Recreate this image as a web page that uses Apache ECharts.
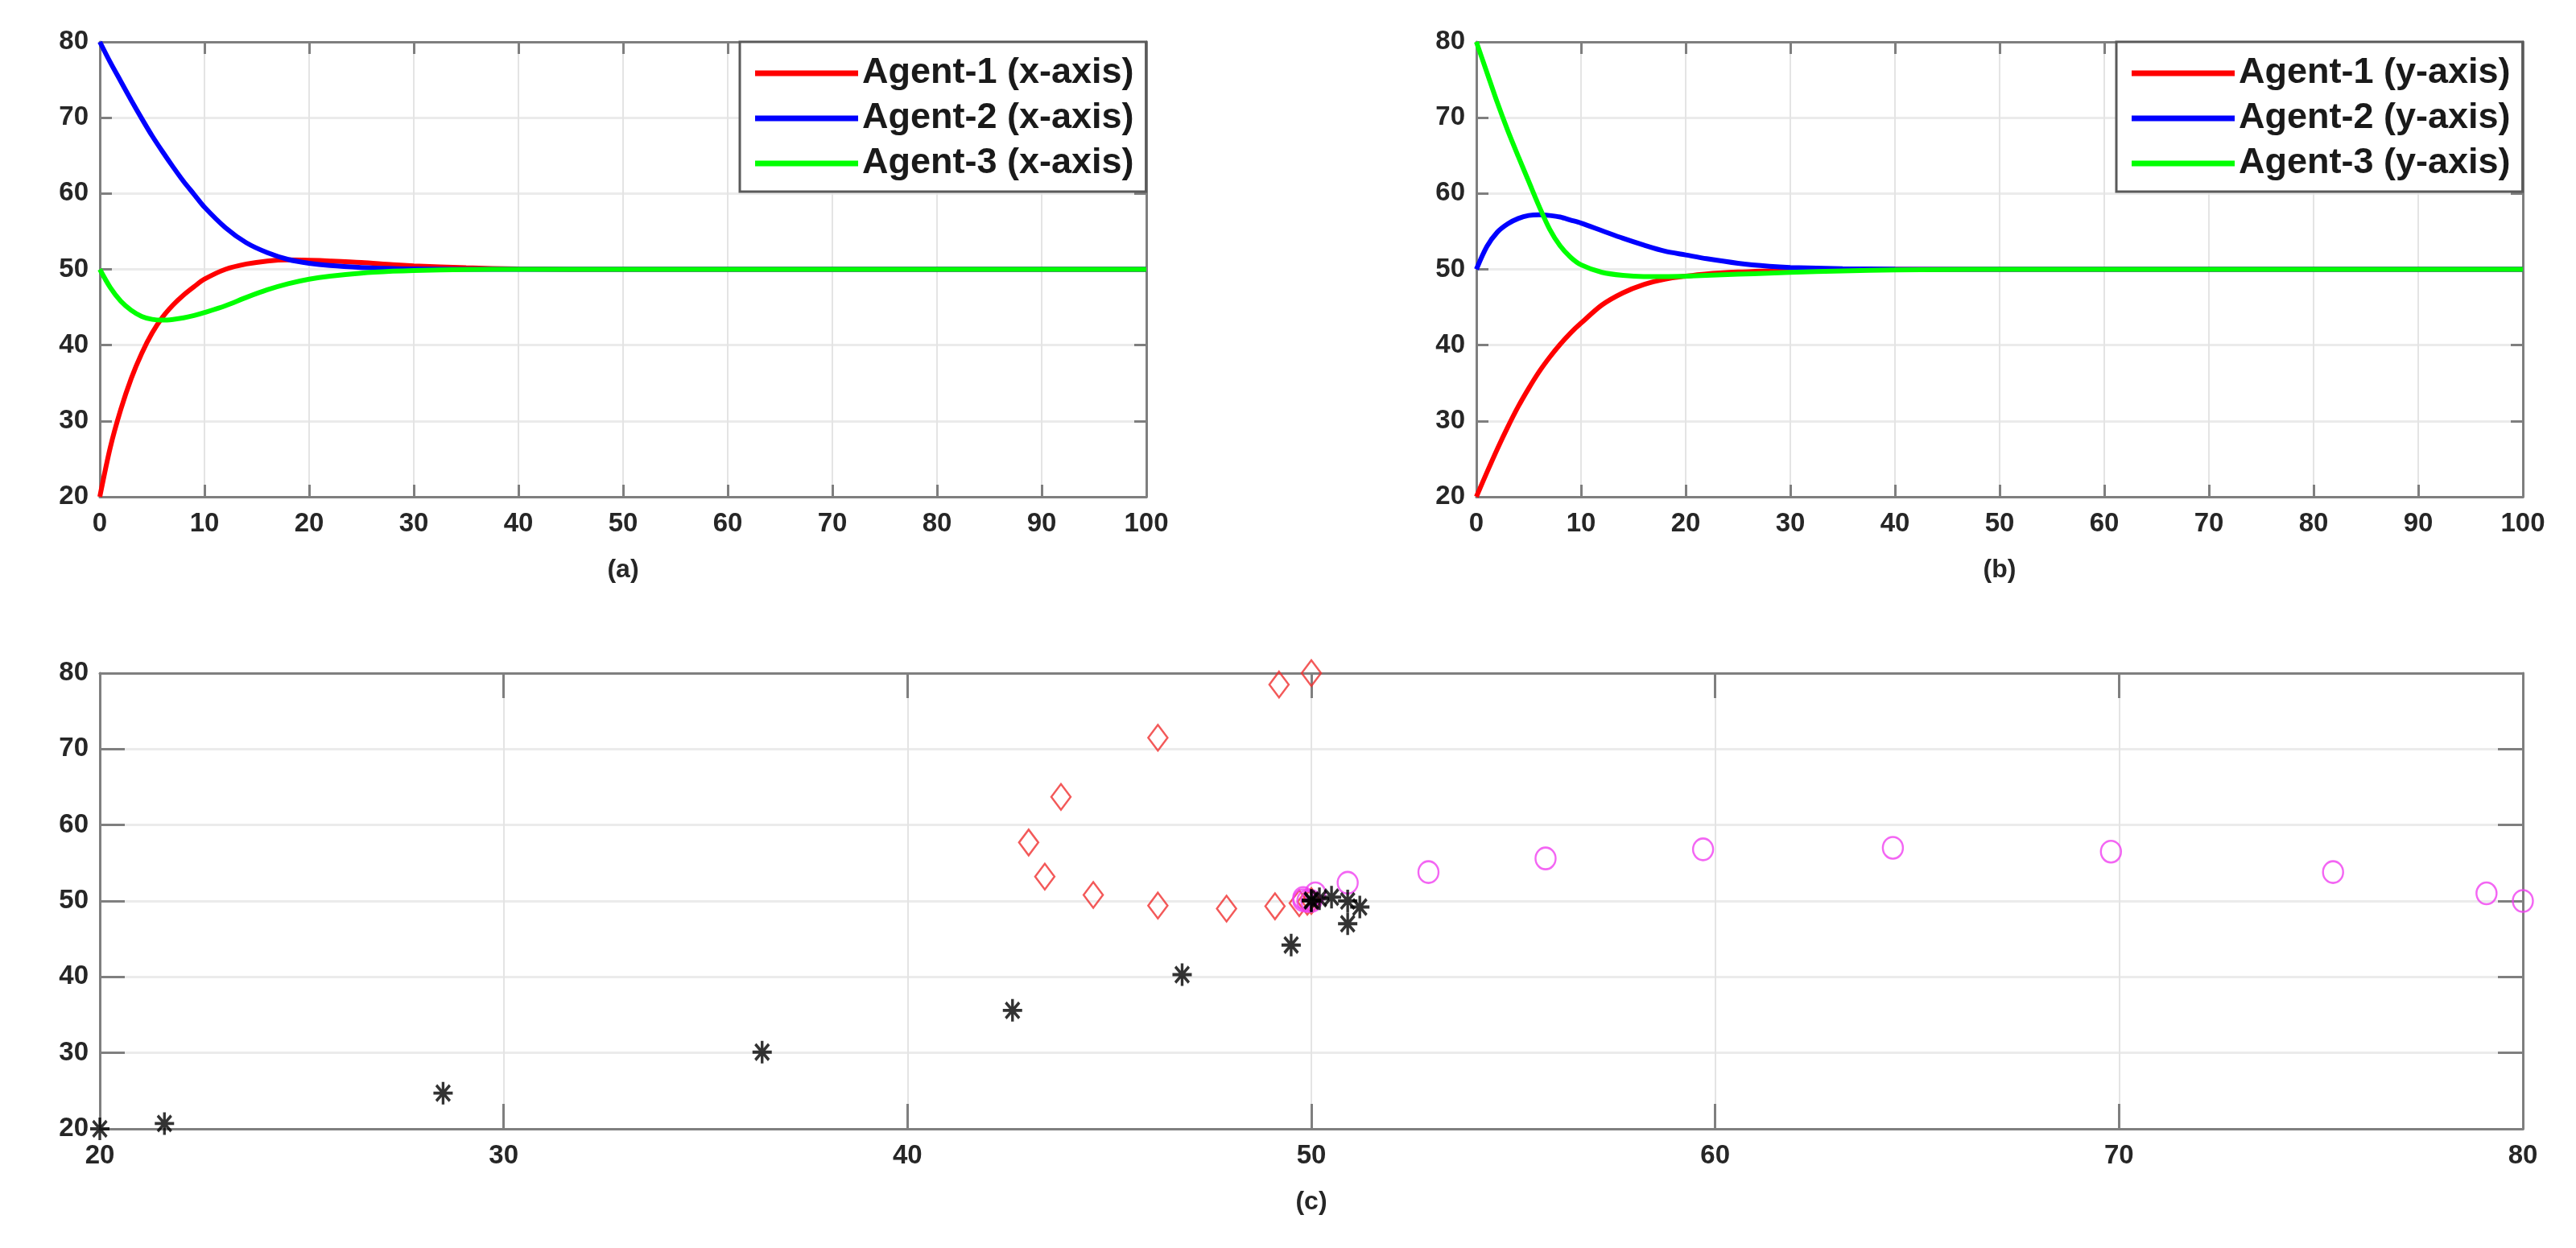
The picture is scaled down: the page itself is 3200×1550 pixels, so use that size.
<!DOCTYPE html>
<html>
<head>
<meta charset="utf-8">
<script src="https://cdn.jsdelivr.net/npm/echarts@6/dist/echarts.min.js"></script>
<style>
html, body { margin: 0; padding: 0; background: #fff; }
#main { width: 3200px; height: 1550px; }
</style>
</head>
<body>
<div id="main"></div>
<script>
// time steps (a) and (b)
const steps = [0, 1, 2, 3, 4, 5, 6, 7, 8, 9, 10, 12, 14, 16, 18, 20, 22, 25, 28, 30, 35, 40, 45, 50, 60, 70, 80, 90, 100];

// (a) x-axis position of each agent
const xAgent1 = [20, 26.5, 31.5, 35.6, 38.9, 41.6, 43.7, 45.3, 46.6, 47.7, 48.7, 50.0, 50.7, 51.1, 51.25, 51.2, 51.1, 50.9, 50.6, 50.45, 50.2, 50.05, 50, 50, 50, 50, 50, 50, 50];
const xAgent2 = [80, 77.3, 74.8, 72.3, 69.9, 67.6, 65.5, 63.5, 61.6, 59.9, 58.2, 55.5, 53.5, 52.2, 51.3, 50.8, 50.5, 50.25, 50.1, 50.05, 50, 50, 50, 50, 50, 50, 50, 50, 50];
const xAgent3 = [50, 47.6, 45.8, 44.6, 43.8, 43.4, 43.3, 43.4, 43.6, 43.9, 44.3, 45.2, 46.3, 47.3, 48.1, 48.7, 49.1, 49.5, 49.75, 49.85, 49.97, 50, 50, 50, 50, 50, 50, 50, 50];

// (b) y-axis position of each agent
const yAgent1 = [20, 23.2, 26.3, 29.2, 31.9, 34.3, 36.5, 38.4, 40.1, 41.6, 42.9, 45.3, 46.9, 48.0, 48.7, 49.1, 49.4, 49.65, 49.8, 49.88, 49.97, 50, 50, 50, 50, 50, 50, 50, 50];
const yAgent2 = [50, 53.0, 54.9, 56.0, 56.7, 57.1, 57.2, 57.1, 56.9, 56.5, 56.1, 55.1, 54.1, 53.2, 52.4, 51.9, 51.4, 50.8, 50.4, 50.25, 50.08, 50.02, 50, 50, 50, 50, 50, 50, 50];
const yAgent3 = [80, 76.0, 72.0, 68.3, 64.9, 61.6, 58.3, 55.3, 53.1, 51.6, 50.6, 49.6, 49.2, 49.05, 49.05, 49.1, 49.2, 49.35, 49.5, 49.6, 49.8, 49.92, 49.97, 50, 50, 50, 50, 50, 50];

// (c) planar trajectories
const path1X = [20, 21.6, 28.5, 36.4, 42.6, 46.8, 49.5, 50.9, 51.2, 50.9, 50.5, 50.2, 50.0, 50];
const path1Y = [20, 20.7, 24.7, 30.1, 35.6, 40.3, 44.2, 47.0, 49.2, 50.0, 50.5, 50.3, 50.1, 50];
const path2X = [80, 79.1, 75.3, 69.8, 64.4, 59.7, 55.8, 52.9, 50.9, 50.1, 49.8, 49.8, 49.9, 50];
const path2Y = [50, 51.0, 53.8, 56.5, 57.0, 56.8, 55.6, 53.8, 52.4, 51.0, 50.4, 50.1, 50.0, 50];
const path3X = [50, 49.2, 46.2, 43.8, 43.0, 43.4, 44.6, 46.2, 47.9, 49.1, 49.7, 49.9, 50];
const path3Y = [80, 78.5, 71.5, 63.7, 57.7, 53.2, 50.8, 49.4, 49.0, 49.3, 49.7, 49.9, 50];

const namesA = ['Agent-1 (x-axis)', 'Agent-2 (x-axis)', 'Agent-3 (x-axis)'];
const namesB = ['Agent-1 (y-axis)', 'Agent-2 (y-axis)', 'Agent-3 (y-axis)'];
const lineColors = ['#ff0000', '#0000ff', '#00ff00'];

const chart = echarts.init(document.getElementById('main'));

const axisGray = '#7f7f7f';
const fontFam = 'Liberation Sans';

function pairs(xs, ys) {
    return xs.map(function (x, i) { return [x, ys[i]]; });
}

function makeX(gridIndex, pos, min, max, tickLen) {
    let main = pos === 'bottom';
    return {
        type: 'value', gridIndex: gridIndex, position: pos,
        min: min, max: max, interval: 10,
        axisLine: { show: true, onZero: false, lineStyle: { color: axisGray, width: 3 } },
        axisTick: { show: true, inside: true, length: tickLen, lineStyle: { color: axisGray, width: 3 } },
        axisLabel: {
            show: main, margin: 17,
            fontFamily: fontFam, fontSize: 33, fontWeight: 'bold', color: '#262626'
        },
        splitLine: { show: main, lineStyle: { color: '#e4e4e4', width: 2 } }
    };
}

function makeY(gridIndex, pos, tickLen) {
    let main = pos === 'left';
    return {
        type: 'value', gridIndex: gridIndex, position: pos,
        min: 20, max: 80, interval: 10,
        axisLine: { show: true, onZero: false, lineStyle: { color: axisGray, width: 3 } },
        axisTick: { show: true, inside: true, length: tickLen, lineStyle: { color: axisGray, width: 3 } },
        axisLabel: {
            show: main, margin: 14,
            fontFamily: fontFam, fontSize: 33, fontWeight: 'bold', color: '#262626'
        },
        splitLine: { show: main, lineStyle: { color: '#ebebeb', width: 3 } }
    };
}

function lineSeries(name, values, color, axisIdx) {
    return {
        name: name, type: 'line',
        xAxisIndex: axisIdx, yAxisIndex: axisIdx,
        data: pairs(steps, values),
        symbol: 'none', showSymbol: false, smooth: 0.3,
        lineStyle: { color: color, width: 6 },
        itemStyle: { color: color }
    };
}

function legendFor(names, left) {
    return {
        data: names, orient: 'vertical', left: left, top: 52,
        selectedMode: false, icon: 'rect',
        backgroundColor: '#fff', borderColor: '#5a5a5a', borderWidth: 3, borderRadius: 0,
        padding: [14, 15, 10, 19],
        itemWidth: 128, itemHeight: 7, itemGap: 6,
        textStyle: { fontFamily: fontFam, fontSize: 45, fontWeight: 'bold', color: '#1a1a1a', lineHeight: 50 }
    };
}

// MATLAB style '*' marker
const starPath = 'path://M8.6,0L11.4,0L11.4,20L8.6,20Z M0,8.6L20,8.6L20,11.4L0,11.4Z M2,4L4,2L18,16L16,18Z M16,2L18,4L4,18L2,16Z';

function labelText(text, x, y) {
    return {
        type: 'text', silent: true,
        style: {
            text: text, x: x, y: y, align: 'center', verticalAlign: 'middle',
            fontFamily: fontFam, fontSize: 32, fontWeight: 'bold', fill: '#262626'
        }
    };
}

option = {
    animation: false,
    backgroundColor: '#fff',
    grid: [
        { left: 124, top: 52, width: 1300, height: 565 },
        { left: 1834, top: 52, width: 1300, height: 565 },
        { left: 124, top: 836, width: 3010, height: 566 }
    ],
    xAxis: [
        makeX(0, 'bottom', 0, 100, 15), makeX(0, 'top', 0, 100, 15),
        makeX(1, 'bottom', 0, 100, 15), makeX(1, 'top', 0, 100, 15),
        makeX(2, 'bottom', 20, 80, 31), makeX(2, 'top', 20, 80, 31)
    ],
    yAxis: [
        makeY(0, 'left', 15), makeY(0, 'right', 15),
        makeY(1, 'left', 15), makeY(1, 'right', 15),
        makeY(2, 'left', 31), makeY(2, 'right', 31)
    ],
    legend: [legendFor(namesA, 919), legendFor(namesB, 2629)],
    graphic: [
        labelText('(a)', 774, 708),
        labelText('(b)', 2484, 708),
        labelText('(c)', 1629, 1493)
    ],
    series: [
        lineSeries(namesA[0], xAgent1, lineColors[0], 0),
        lineSeries(namesA[1], xAgent2, lineColors[1], 0),
        lineSeries(namesA[2], xAgent3, lineColors[2], 0),
        lineSeries(namesB[0], yAgent1, lineColors[0], 2),
        lineSeries(namesB[1], yAgent2, lineColors[1], 2),
        lineSeries(namesB[2], yAgent3, lineColors[2], 2),
        {
            type: 'scatter', xAxisIndex: 4, yAxisIndex: 4,
            data: pairs(path3X, path3Y),
            symbol: 'diamond', symbolSize: [24, 32],
            itemStyle: { color: 'rgba(0,0,0,0)', borderColor: '#f03030', borderWidth: 2.5 }
        },
        {
            type: 'scatter', xAxisIndex: 4, yAxisIndex: 4,
            data: pairs(path2X, path2Y),
            symbol: 'circle', symbolSize: [25, 27],
            itemStyle: { color: 'rgba(0,0,0,0)', borderColor: '#f040f0', borderWidth: 2.5 }
        },
        {
            type: 'scatter', xAxisIndex: 4, yAxisIndex: 4,
            data: pairs(path1X, path1Y),
            symbol: starPath, symbolSize: [24, 28],
            itemStyle: { color: '#000' }
        }
    ]
};
chart.setOption(option);
</script>
</body>
</html>
